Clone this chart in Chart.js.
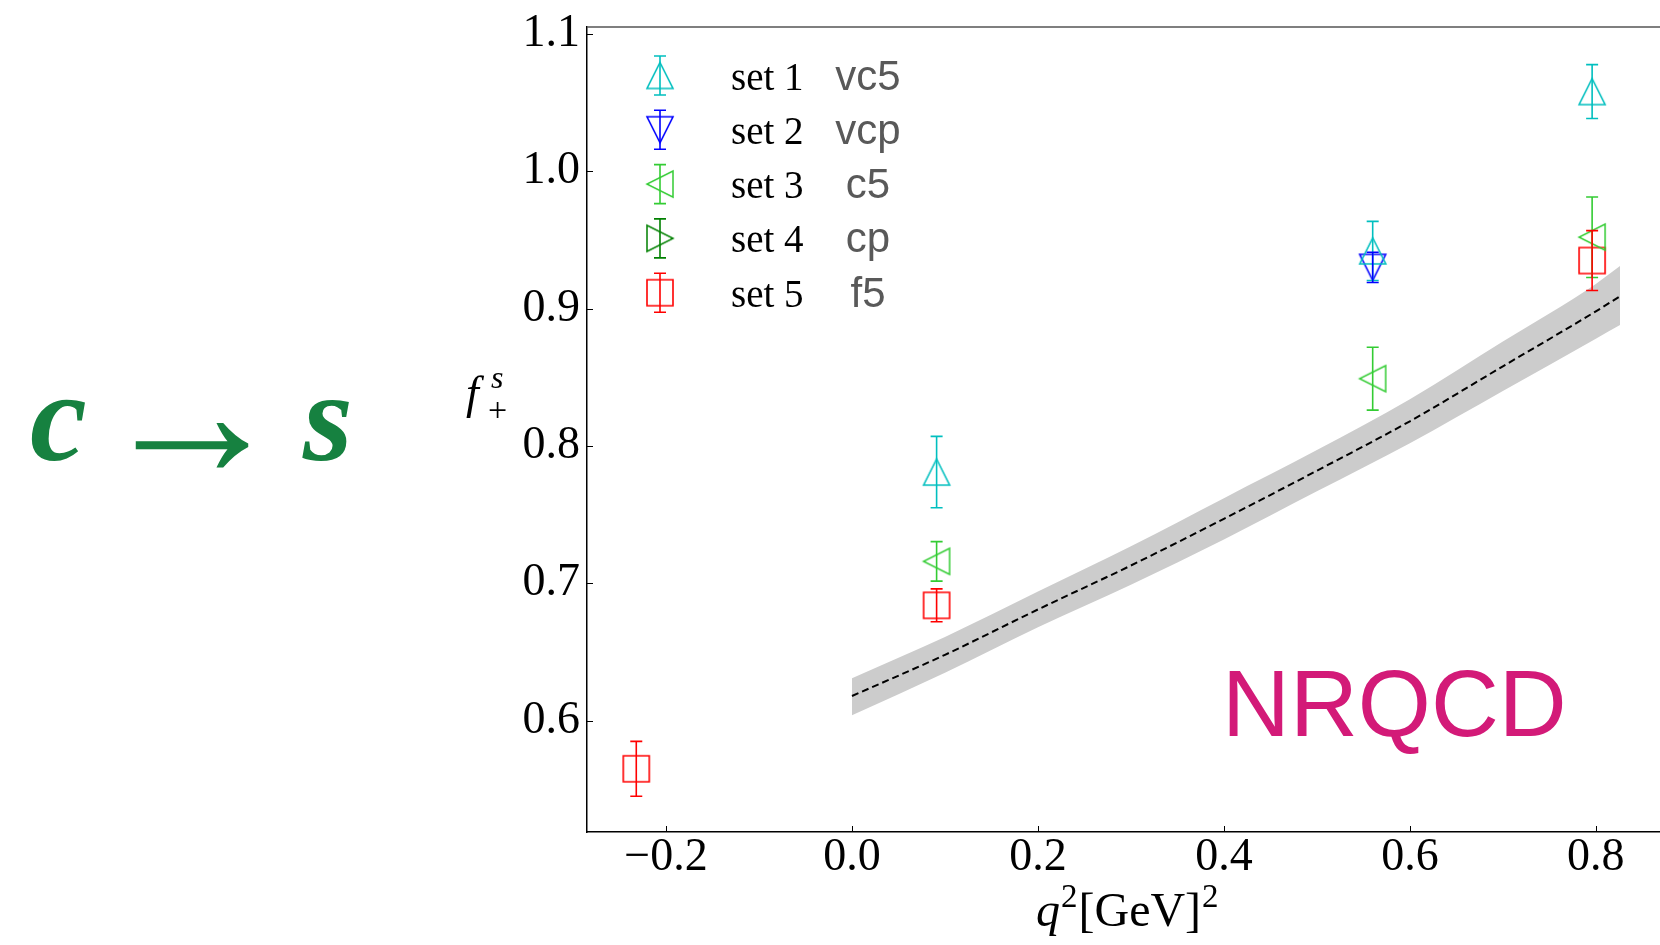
<!DOCTYPE html>
<html>
<head>
<meta charset="utf-8">
<script src="https://cdn.jsdelivr.net/npm/chart.js@4.4.1/dist/chart.umd.min.js"></script>
<style>
  html, body { margin: 0; padding: 0; background: #fff; overflow: hidden; }
</style>
</head>
<body>
<canvas id="chart" width="1660" height="945"></canvas>
<script>
// lattice points: q^2 [GeV^2], f+ value, error
const q2Set1 = [0.091, 0.560, 0.796];
const fSet1 = [0.781, 0.942, 1.058];
const errSet1 = [0.026, 0.0215, 0.0196];

const q2Set2 = [0.560];
const fSet2 = [0.930];
const errSet2 = [0.011];

const q2Set3 = [0.091, 0.560, 0.796];
const fSet3 = [0.716, 0.849, 0.952];
const errSet3 = [0.0144, 0.0229, 0.0293];

const q2Set4 = [];
const fSet4 = [];
const errSet4 = [];

const q2Set5 = [-0.232, 0.091, 0.796];
const fSet5 = [0.565, 0.684, 0.935];
const errSet5 = [0.020, 0.012, 0.0218];

// fit band
const bandQ2 = [0.0, 0.1, 0.2, 0.3, 0.4, 0.5, 0.6, 0.7, 0.8, 0.826];
const bandMid = [0.618, 0.648, 0.681, 0.713, 0.747, 0.782, 0.818, 0.858, 0.898, 0.909];
const bandHi = [0.631, 0.661, 0.694, 0.727, 0.762, 0.797, 0.834, 0.876, 0.918, 0.931];
const bandLo = [0.604, 0.635, 0.668, 0.699, 0.732, 0.767, 0.802, 0.840, 0.878, 0.888];

const xTicks = [-0.2, 0.0, 0.2, 0.4, 0.6, 0.8];
const yTicks = [0.6, 0.7, 0.8, 0.9, 1.0, 1.1];

const setNames = ['set 1', 'set 2', 'set 3', 'set 4', 'set 5'];
const ensembleNames = ['vc5', 'vcp', 'c5', 'cp', 'f5'];
const setColors = ['#00bfbf', '#0000ff', '#33cc33', '#008000', '#ff0000'];
const setShapes = ['tri', 'tri', 'tri', 'tri', 'rect'];
const setRotation = [0, 180, -90, 90, 0];

const SERIF = '"Liberation Serif", "DejaVu Serif", serif';
const SANS = '"Liberation Sans", Arial, sans-serif';

// open marker drawn on a small canvas, matplotlib style (bbox centred)
function makeMarker(shape, color) {
    const size = 32, c = document.createElement('canvas');
    c.width = size; c.height = size;
    const g = c.getContext('2d');
    const m = size / 2, h = 13;
    g.strokeStyle = color;
    g.lineWidth = 1.6;
    g.beginPath();
    if (shape === 'rect') {
        g.rect(m - h, m - h, 2 * h, 2 * h);
    } else {
        g.moveTo(m, m - h);
        g.lineTo(m + h, m + h);
        g.lineTo(m - h, m + h);
        g.closePath();
    }
    g.stroke();
    return c;
}
const markers = setColors.map((col, i) => makeMarker(setShapes[i], col));

function toPoints(xs, ys) {
    return xs.map((v, i) => ({ x: v, y: ys[i] }));
}

function pointSet(i, xs, ys, errs) {
    return {
        type: 'scatter',
        label: setNames[i],
        data: toPoints(xs, ys),
        err: errs,
        borderColor: setColors[i],
        pointStyle: markers[i],
        rotation: setRotation[i],
        pointRadius: 14,
        order: 1
    };
}

const fmt = v => (v < 0 ? '\u2212' : '') + Math.abs(v).toFixed(1);

// vertical error bars with caps
const errorBars = {
    id: 'errorBars',
    afterDatasetsDraw(chart) {
        const { ctx, chartArea, scales: { x, y } } = chart;
        ctx.save();
        ctx.beginPath();
        ctx.rect(chartArea.left, chartArea.top, chartArea.right - chartArea.left, chartArea.bottom - chartArea.top);
        ctx.clip();
        ctx.lineWidth = 1.6;
        chart.data.datasets.forEach(ds => {
            if (!ds.err) return;
            ctx.strokeStyle = ds.borderColor;
            ds.data.forEach((p, i) => {
                const px = x.getPixelForValue(p.x);
                const top = y.getPixelForValue(p.y + ds.err[i]);
                const bot = y.getPixelForValue(p.y - ds.err[i]);
                ctx.beginPath();
                ctx.moveTo(px, top); ctx.lineTo(px, bot);
                ctx.moveTo(px - 6, top); ctx.lineTo(px + 6, top);
                ctx.moveTo(px - 6, bot); ctx.lineTo(px + 6, bot);
                ctx.stroke();
            });
        });
        ctx.restore();
    }
};

// spine on top, inward ticks, axis titles, legend and annotations
const decorations = {
    id: 'decorations',
    afterDraw(chart) {
        const { ctx, chartArea, scales: { x, y } } = chart;
        ctx.save();

        ctx.strokeStyle = '#555';
        ctx.lineWidth = 1.5;
        ctx.beginPath();
        ctx.moveTo(chartArea.left, chartArea.top);
        ctx.lineTo(chartArea.right, chartArea.top);
        ctx.stroke();

        ctx.strokeStyle = '#000';
        ctx.lineWidth = 1;
        ctx.beginPath();
        xTicks.forEach(v => {
            const px = Math.round(x.getPixelForValue(v)) + 0.5;
            ctx.moveTo(px, chartArea.bottom);
            ctx.lineTo(px, chartArea.bottom - 6);
        });
        yTicks.forEach(v => {
            const py = Math.round(y.getPixelForValue(v)) + 0.5;
            ctx.moveTo(chartArea.left, py);
            ctx.lineTo(chartArea.left + 6, py);
        });
        ctx.stroke();

        // legend
        const rowY0 = 75.5, rowStep = 54.3, mx = 660;
        setNames.forEach((name, i) => {
            const cy = rowY0 + i * rowStep;
            ctx.strokeStyle = setColors[i];
            ctx.lineWidth = 1.6;
            ctx.beginPath();
            ctx.moveTo(mx, cy - 19.5); ctx.lineTo(mx, cy + 19.5);
            ctx.moveTo(mx - 6, cy - 19.5); ctx.lineTo(mx + 6, cy - 19.5);
            ctx.moveTo(mx - 6, cy + 19.5); ctx.lineTo(mx + 6, cy + 19.5);
            ctx.stroke();
            ctx.save();
            ctx.translate(mx, cy);
            ctx.rotate(setRotation[i] * Math.PI / 180);
            ctx.drawImage(markers[i], -16, -16);
            ctx.restore();

            ctx.fillStyle = '#000';
            ctx.font = '39px ' + SERIF;
            ctx.textAlign = 'left';
            ctx.textBaseline = 'alphabetic';
            ctx.fillText(name, 731, cy + 14);

            ctx.fillStyle = '#595959';
            ctx.font = '42px ' + SANS;
            ctx.textAlign = 'center';
            ctx.fillText(ensembleNames[i], 868, cy + 14);
        });

        // y title f_+^s
        ctx.fillStyle = '#000';
        ctx.textAlign = 'left';
        ctx.font = 'italic 46px ' + SERIF;
        ctx.fillText('f', 466, 408);
        ctx.font = 'italic 32px ' + SERIF;
        ctx.fillText('s', 491, 388);
        ctx.font = '34px ' + SERIF;
        ctx.fillText('+', 488, 421);

        // x title q^2[GeV]^2
        let tx = 1036;
        const base = 926;
        ctx.font = 'italic 48px ' + SERIF;
        ctx.fillText('q', tx, base);
        tx += ctx.measureText('q').width + 1;
        ctx.font = '33px ' + SERIF;
        ctx.fillText('2', tx, base - 19);
        tx += ctx.measureText('2').width + 1;
        ctx.font = '48px ' + SERIF;
        ctx.fillText('[GeV]', tx, base);
        tx += ctx.measureText('[GeV]').width + 1;
        ctx.font = '33px ' + SERIF;
        ctx.fillText('2', tx, base - 19);

        // c -> s
        ctx.fillStyle = '#168140';
        ctx.font = 'bold italic 128px ' + SERIF;
        ctx.fillText('c', 30, 460);
        ctx.fillText('s', 303, 460);
        ctx.font = '190px ' + SERIF;
        ctx.textAlign = 'center';
        ctx.textBaseline = 'middle';
        ctx.fillText('\u2192', 192, 427);

        // NRQCD
        ctx.fillStyle = '#d31a78';
        ctx.font = '94px ' + SANS;
        ctx.textAlign = 'left';
        ctx.textBaseline = 'alphabetic';
        ctx.fillText('NRQCD', 1222, 736);

        ctx.restore();
    }
};

const ctx = document.getElementById('chart').getContext('2d');
new Chart(ctx, {
    data: {
        datasets: [
            pointSet(0, q2Set1, fSet1, errSet1),
            pointSet(1, q2Set2, fSet2, errSet2),
            pointSet(2, q2Set3, fSet3, errSet3),
            pointSet(3, q2Set4, fSet4, errSet4),
            pointSet(4, q2Set5, fSet5, errSet5),
            {
                type: 'line',
                label: 'fit',
                data: toPoints(bandQ2, bandMid),
                borderColor: '#000',
                borderWidth: 2,
                borderDash: [7, 4],
                pointRadius: 0,
                cubicInterpolationMode: 'monotone',
                fill: false,
                order: 2
            },
            {
                type: 'line',
                label: 'upper',
                data: toPoints(bandQ2, bandHi),
                borderWidth: 0,
                borderColor: 'rgba(0,0,0,0)',
                backgroundColor: '#cccccc',
                pointRadius: 0,
                cubicInterpolationMode: 'monotone',
                fill: '+1',
                order: 3
            },
            {
                type: 'line',
                label: 'lower',
                data: toPoints(bandQ2, bandLo),
                borderWidth: 0,
                borderColor: 'rgba(0,0,0,0)',
                pointRadius: 0,
                cubicInterpolationMode: 'monotone',
                fill: false,
                order: 3
            }
        ]
    },
    options: {
        responsive: false,
        animation: false,
        layout: { autoPadding: false, padding: { top: 27, left: 0, right: 0, bottom: 0 } },
        plugins: {
            legend: { display: false },
            tooltip: { enabled: false }
        },
        scales: {
            x: {
                type: 'linear',
                min: -0.285,
                max: 0.869,
                afterBuildTicks: s => { s.ticks = xTicks.map(v => ({ value: v })); },
                afterFit: s => { s.height = 113; s.paddingLeft = 0; s.paddingRight = 0; },
                grid: { display: false, drawTicks: false },
                border: { display: true, color: '#000', width: 1.5 },
                ticks: {
                    padding: -2,
                    color: '#000',
                    maxRotation: 0,
                    autoSkip: false,
                    font: { family: SERIF, size: 46 },
                    callback: v => fmt(v)
                }
            },
            y: {
                type: 'linear',
                min: 0.519,
                max: 1.105,
                afterBuildTicks: s => { s.ticks = yTicks.map(v => ({ value: v })); },
                afterFit: s => { s.width = 587; s.paddingTop = 0; s.paddingBottom = 0; },
                grid: { display: false, drawTicks: false },
                border: { display: true, color: '#000', width: 1.5 },
                ticks: {
                    padding: 7,
                    color: '#000',
                    autoSkip: false,
                    font: { family: SERIF, size: 46 },
                    callback: v => fmt(v)
                }
            }
        }
    },
    plugins: [errorBars, decorations]
});
</script>
</body>
</html>
